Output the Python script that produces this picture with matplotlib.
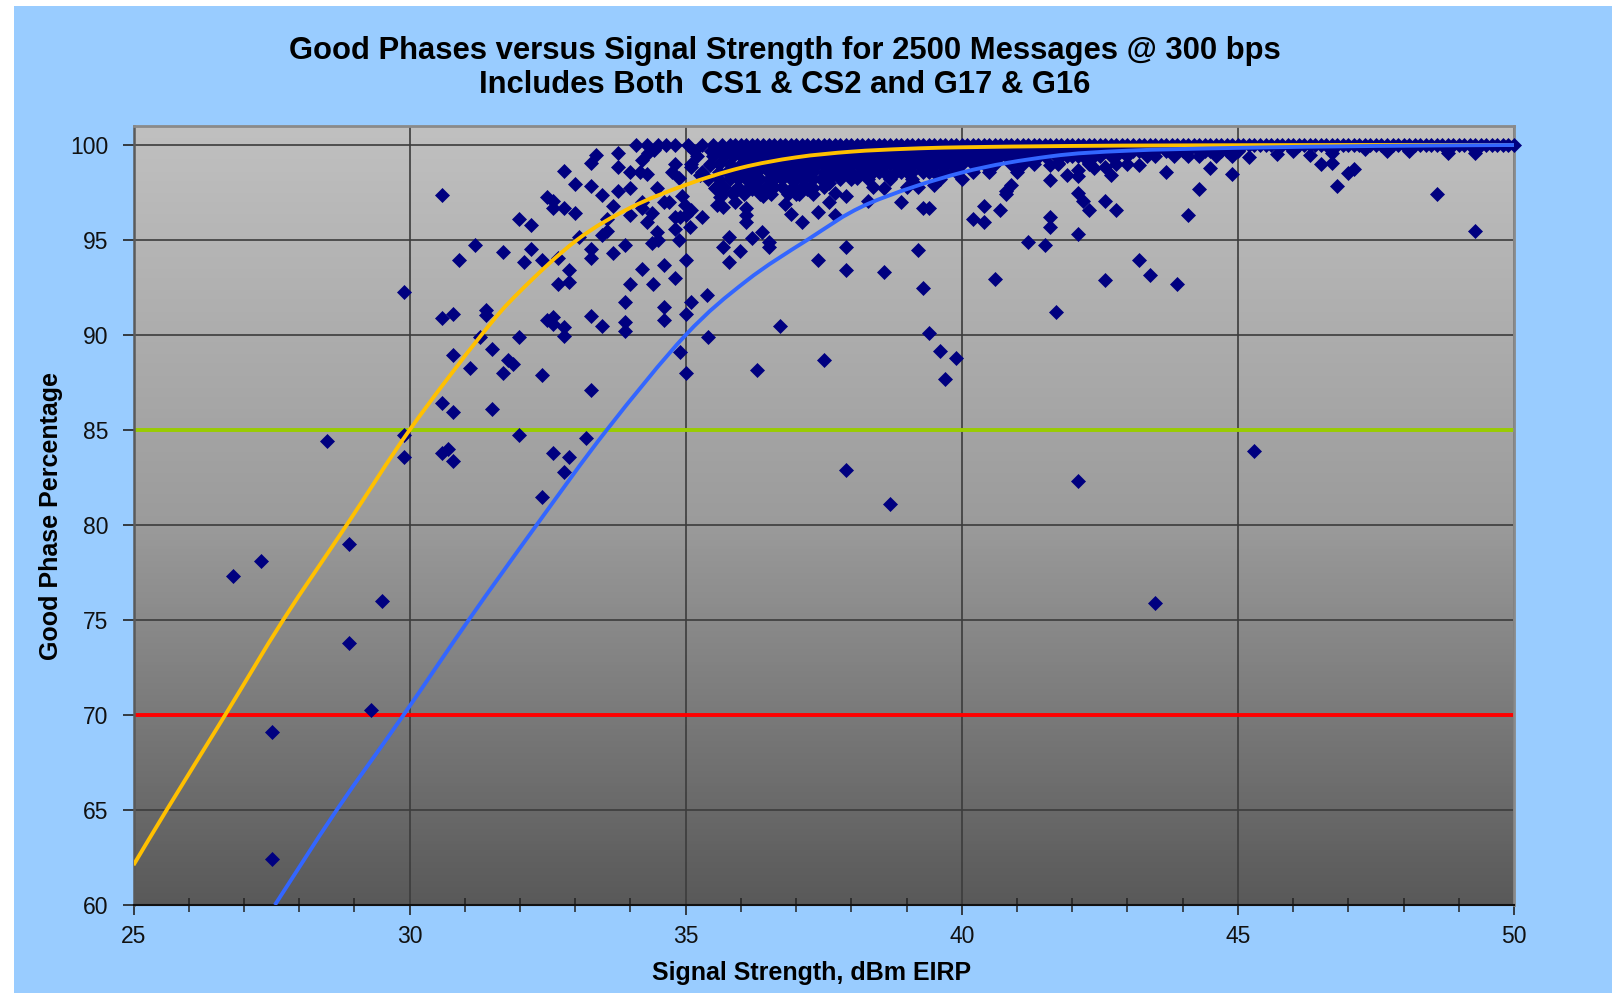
import numpy as np
import matplotlib
matplotlib.use("Agg")
import matplotlib.pyplot as plt
from matplotlib.patches import Rectangle, PathPatch
from matplotlib.path import Path
from matplotlib.colors import LinearSegmentedColormap

plt.rcParams['font.family'] = ['Liberation Sans', 'DejaVu Sans']

# ---------------- data ----------------
title1 = "Good Phases versus Signal Strength for 2500 Messages @ 300 bps"
title2 = "Includes Both  CS1 & CS2 and G17 & G16"
xlabel = "Signal Strength, dBm EIRP"
ylabel = "Good Phase Percentage"

# messages that came through with every phase good (100 %)
x_at_100 = [34.1, 34.3, 34.5, 34.65, 34.8, 35.05, 35.3, 35.5, 35.65, 35.8, 35.9,
            36.0, 36.1, 36.2, 36.3, 36.4, 36.5, 36.6, 36.7, 36.8, 36.9,
            37.0, 37.1, 37.2, 37.3, 37.4, 37.5, 37.6, 37.7, 37.8, 37.9,
            38.0, 38.1, 38.2, 38.3, 38.4, 38.5, 38.6, 38.7, 38.8, 38.9,
            39.0, 39.1, 39.2, 39.3, 39.4, 39.5, 39.6, 39.7, 39.8, 39.9,
            40.0, 40.1, 40.2, 40.3, 40.4, 40.5, 40.6, 40.7, 40.8, 40.9,
            41.0, 41.1, 41.2, 41.3, 41.4, 41.5, 41.6, 41.7, 41.8, 41.9,
            42.0, 42.1, 42.2, 42.3, 42.4, 42.5, 42.6, 42.7, 42.8, 42.9,
            43.0, 43.1, 43.2, 43.3, 43.4, 43.5, 43.6, 43.7, 43.8, 43.9,
            44.0, 44.1, 44.2, 44.3, 44.4, 44.5, 44.6, 44.7, 44.8, 44.9,
            45.0, 45.1, 45.2, 45.3, 45.4, 45.5, 45.6, 45.7, 45.8, 45.9,
            46.0, 46.1, 46.2, 46.3, 46.4, 46.5, 46.6, 46.7, 46.8, 46.9,
            47.0, 47.1, 47.2, 47.3, 47.4, 47.5, 47.6, 47.7, 47.8, 47.9,
            48.0, 48.1, 48.2, 48.3, 48.4, 48.5, 48.6, 48.7, 48.8, 48.9,
            49.0, 49.1, 49.2, 49.3, 49.4, 49.5, 49.6, 49.7, 49.8, 49.9, 50.0]

# the dense cloud just under 100 %
x_at_997 = [35.15, 35.45, 35.6, 35.75, 35.9,
            36.0, 36.1, 36.2, 36.3, 36.4, 36.5, 36.6, 36.7, 36.8, 36.9,
            37.0, 37.1, 37.2, 37.3, 37.4, 37.5, 37.6, 37.7, 37.8, 37.9,
            38.0, 38.1, 38.2, 38.3, 38.4, 38.5, 38.6, 38.7, 38.8, 38.9,
            39.0, 39.1, 39.2, 39.3, 39.4, 39.5, 39.6, 39.7, 39.8, 39.9,
            40.0, 40.1, 40.2, 40.3, 40.4, 40.5, 40.6, 40.7, 40.8, 40.9,
            41.0, 41.1, 41.2, 41.3, 41.4, 41.5, 41.6, 41.7, 41.8, 41.9,
            42.0, 42.1, 42.2, 42.3, 42.4, 42.5, 42.6, 42.7, 42.8, 42.9,
            43.0, 43.1, 43.2, 43.3, 43.4, 43.5, 43.7, 43.8, 43.9,
            44.0, 44.1, 44.3, 44.4, 44.5, 44.6, 44.7, 44.8, 44.9, 45.0]
x_at_994 = [35.2, 35.5, 35.7, 35.85,
            36.0, 36.1, 36.2, 36.3, 36.4, 36.5, 36.6, 36.7, 36.8, 36.9,
            37.0, 37.1, 37.2, 37.3, 37.4, 37.5, 37.6, 37.7, 37.8, 37.9,
            38.0, 38.1, 38.2, 38.3, 38.4, 38.5, 38.6, 38.7, 38.8, 38.9,
            39.0, 39.1, 39.2, 39.3, 39.4, 39.5, 39.6, 39.7, 39.8, 39.9,
            40.0, 40.1, 40.2, 40.3, 40.4, 40.5, 40.6, 40.7, 40.8, 40.9,
            41.0, 41.1, 41.2, 41.3, 41.4, 41.5, 41.7, 41.8, 41.9,
            42.0, 42.1, 42.2, 42.4, 42.5, 42.7, 42.8, 43.0,
            43.35, 43.5, 43.85, 44.1, 44.3, 44.6, 44.9]
x_at_990 = [35.1, 35.44, 35.6, 35.8,
            36.0, 36.1, 36.2, 36.3, 36.4, 36.5, 36.6, 36.7, 36.8, 36.9,
            37.0, 37.1, 37.2, 37.3, 37.4, 37.5, 37.6, 37.7, 37.8, 37.9,
            38.0, 38.1, 38.2, 38.3, 38.4, 38.5, 38.6, 38.7, 38.8, 38.9,
            39.0, 39.1, 39.2, 39.3, 39.4, 39.5, 39.6, 39.7, 39.8, 39.9,
            40.0, 40.2, 40.3, 40.4, 40.6, 40.9, 41.1, 41.3, 41.75, 42.3, 42.8, 43.0]
x_at_986 = [35.3, 35.6, 35.75, 35.9, 36.0, 36.1, 36.2, 36.3, 36.5, 36.6, 36.7,
            36.8, 36.9, 37.0, 37.1, 37.2, 37.3, 37.5, 37.6, 37.7, 37.8, 37.9,
            38.0, 38.2, 38.3, 38.4, 38.5, 38.6, 38.8, 38.9, 39.0, 39.1, 39.3,
            39.4, 39.5, 39.7, 39.9, 40.2, 40.5, 41.0]
x_at_982 = [35.4, 35.6, 35.8, 35.95, 36.1, 36.2, 36.35, 36.5, 36.6, 36.75,
            36.9, 37.0, 37.15, 37.3, 37.45, 37.6, 37.8, 38.0, 38.3, 38.7,
            39.1, 39.6, 40.0]
x_at_978 = [35.55, 35.7, 35.95, 36.15, 36.3, 36.45, 36.6, 36.75, 36.95, 37.1,
            37.25, 37.5, 38.4, 39.0]
x_at_974 = [35.65, 35.85, 36.05, 36.35, 36.55, 36.85, 37.05, 37.3]

# individual messages below the cloud (signal dBm, good phase %)
pts_low = [(26.8, 77.3), (27.3, 78.1), (27.5, 69.1), (27.5, 62.4), (28.5, 84.4),
           (28.9, 79.0), (28.9, 73.8), (29.3, 70.25), (29.5, 76.0), (29.9, 92.25),
           (29.9, 84.75), (29.9, 83.6)]
pts_30_32 = [(30.58, 97.37), (30.58, 90.88), (30.78, 91.1), (30.58, 86.4), (30.78, 85.96),
             (30.58, 83.8), (30.69, 84.0), (30.78, 83.37), (30.78, 88.95), (30.9, 93.95),
             (31.1, 88.25), (31.19, 94.75), (31.28, 89.91), (31.39, 91.32), (31.39, 91.05),
             (31.5, 89.26), (31.5, 86.09), (31.7, 94.38), (31.7, 88.02), (31.79, 88.68),
             (31.88, 88.47), (31.99, 96.09), (31.99, 89.88), (31.99, 84.74)]
pts_32_34 = [(32.08, 93.86), (32.2, 95.79), (32.2, 94.51), (32.39, 87.89), (32.39, 81.45),
             (32.4, 93.95), (32.49, 97.28), (32.49, 90.79), (32.59, 90.96), (32.59, 90.58),
             (32.59, 83.8), (32.6, 97.05), (32.6, 96.67), (32.68, 94.03), (32.68, 92.68),
             (32.79, 96.67), (32.79, 98.65), (32.79, 90.4), (32.79, 89.95), (32.79, 82.8),
             (32.88, 93.42), (32.88, 92.8), (32.89, 83.6), (33.0, 97.95), (33.0, 96.4),
             (33.06, 95.17), (33.19, 84.6), (33.28, 99.07), (33.38, 99.47), (33.28, 97.84),
             (33.28, 94.51), (33.28, 94.07), (33.28, 91.0), (33.28, 87.11), (33.49, 97.37),
             (33.49, 95.26), (33.49, 90.49), (33.58, 96.1), (33.58, 95.5), (33.69, 96.79),
             (33.69, 94.3), (33.77, 99.56), (33.77, 98.86), (33.77, 97.6), (33.9, 94.74),
             (33.9, 91.75), (33.9, 90.7), (33.9, 90.2)]
pts_34_35 = [(34.0, 98.6), (34.0, 97.72), (34.0, 96.3), (34.0, 92.7), (34.18, 98.6),
             (34.2, 99.2), (34.31, 99.56), (34.3, 98.45), (34.2, 97.0), (34.2, 96.7),
             (34.2, 93.5), (34.3, 95.96), (34.39, 96.4), (34.39, 94.83), (34.4, 92.7),
             (34.42, 99.74), (34.48, 97.72), (34.48, 95.44), (34.5, 95.0), (34.6, 97.0),
             (34.6, 93.7), (34.6, 91.45), (34.6, 90.8), (34.7, 97.0), (34.75, 98.6),
             (34.8, 99.0), (34.8, 96.2), (34.81, 95.6), (34.8, 93.0), (34.87, 98.25),
             (34.87, 95.0), (34.9, 96.2), (34.93, 97.3), (34.9, 89.1), (34.99, 96.85),
             (35.0, 96.3), (35.0, 93.95), (35.0, 91.1), (35.0, 88.0)]
pts_35_40 = [(35.08, 95.7), (35.1, 96.6), (35.1, 91.75), (35.1, 98.85), (35.26, 98.4),
             (35.29, 96.2), (35.38, 92.1), (35.4, 89.9), (35.44, 98.95), (35.53, 97.72),
             (35.56, 96.84), (35.62, 97.28), (35.68, 96.75), (35.68, 94.65), (35.78, 95.17),
             (35.78, 93.86), (35.85, 97.55), (35.9, 97.0), (35.99, 94.4), (36.1, 96.67),
             (36.1, 96.3), (36.1, 95.96), (36.2, 95.1), (36.2, 97.7), (36.3, 88.15),
             (36.38, 95.44), (36.4, 97.3), (36.5, 94.9), (36.5, 94.65), (36.7, 90.5),
             (36.8, 96.9), (36.9, 96.35), (37.0, 97.4), (37.1, 95.95), (37.2, 97.7),
             (37.3, 97.75), (37.4, 96.45), (37.4, 93.95), (37.5, 88.7), (37.6, 98.0),
             (37.6, 97.0), (37.7, 97.5), (37.7, 96.3), (37.8, 98.4), (37.9, 97.3),
             (37.9, 94.65), (37.9, 93.4), (37.9, 82.9), (38.1, 98.25), (38.3, 97.05),
             (38.6, 97.75), (38.6, 93.3), (38.7, 81.1), (38.9, 97.0), (39.2, 97.8),
             (39.2, 94.5), (39.3, 96.7), (39.4, 96.7), (39.3, 92.5), (39.4, 90.1),
             (39.5, 97.9), (39.6, 89.15), (39.7, 87.7), (39.9, 88.8)]
pts_40_45 = [(40.2, 96.1), (40.4, 96.8), (40.4, 95.95), (40.6, 92.95), (40.7, 96.6),
             (40.8, 97.4), (40.8, 97.6), (40.9, 97.9), (41.2, 94.9), (41.5, 94.75),
             (41.6, 98.15), (41.6, 96.2), (41.6, 95.7), (41.7, 91.2), (41.6, 98.95),
             (41.75, 99.05), (41.9, 98.4), (42.1, 98.7), (42.1, 98.35), (42.1, 97.45),
             (42.1, 95.3), (42.1, 82.3), (42.2, 97.05), (42.3, 99.05), (42.3, 96.6),
             (42.4, 98.8), (42.6, 98.85), (42.6, 97.05), (42.6, 92.9), (42.7, 98.4),
             (42.8, 96.6), (43.2, 98.95), (43.2, 93.95), (43.4, 93.15), (43.5, 75.9),
             (43.7, 98.6), (43.9, 92.7), (44.1, 96.3), (44.3, 97.7), (44.5, 98.8),
             (44.9, 98.45)]
pts_45_50 = [(45.2, 99.35), (45.3, 83.9), (45.7, 99.55), (46.0, 99.7), (46.3, 99.5),
             (46.5, 99.0), (46.7, 99.6), (46.7, 99.05), (46.8, 97.85), (47.0, 98.55),
             (47.1, 98.75), (47.3, 99.8), (47.7, 99.7), (48.1, 99.7), (48.6, 97.4),
             (48.8, 99.6), (49.3, 99.6), (49.3, 95.45)]

# fitted curves (traced)
orange_x = [25.0, 25.6, 26.66, 27.71, 28.86, 30.0, 31.3, 32.0, 33.03, 34.0, 35.0, 36.0,
            37.0, 38.0, 39.0, 40.0, 42.0, 44.0, 47.0, 50.0]
orange_y = [62.1, 65.0, 70.0, 75.0, 80.0, 85.0, 90.0, 92.3, 95.0, 96.7, 97.9, 98.8,
            99.35, 99.65, 99.8, 99.88, 99.95, 99.98, 100.0, 100.0]
blue_x = [27.56, 28.68, 29.89, 31.07, 32.3, 33.57, 35.0, 36.1, 37.2, 38.3, 40.0,
          41.6, 43.0, 45.0, 47.5, 50.0]
blue_y = [60.0, 65.0, 70.0, 75.0, 80.0, 85.0, 90.0, 92.85, 95.0, 96.9, 98.55,
          99.4, 99.7, 99.85, 99.95, 100.0]

limit_good = 85
limit_min = 70


def smooth_path(xs, ys):
    # Excel-style smoothed line: Catmull-Rom segments drawn as cubic Beziers
    p = np.column_stack([xs, ys]).astype(float)
    verts = [p[0]]
    codes = [Path.MOVETO]
    for i in range(len(p) - 1):
        p0 = p[i - 1] if i > 0 else p[i]
        p3 = p[i + 2] if i + 2 < len(p) else p[i + 1]
        c1 = p[i] + (p[i + 1] - p0) / 6.0
        c2 = p[i + 1] - (p3 - p[i]) / 6.0
        verts += [c1, c2, p[i + 1]]
        codes += [Path.CURVE4] * 3
    return Path(verts, codes)


# ---------------- figure ----------------
W, H = 1612, 993
fig = plt.figure(figsize=(W / 100, H / 100), dpi=100)
fig.patches.append(Rectangle((14 / W, 0), 1, 1 - 6 / H, transform=fig.transFigure,
                             facecolor='#99CCFF', edgecolor='none', zorder=-10))

ax = fig.add_axes([133.5 / W, 1 - 905 / H, (1514 - 133.5) / W, (905 - 126) / H])
ax.set_xlim(25, 50)
ax.set_ylim(60, 101)

# grey gradient plot area
grad = LinearSegmentedColormap.from_list('g', [(0, '#595959'), (0.5, '#9C9C9C'), (1, '#C0C0C0')])
ax.imshow(np.linspace(0, 1, 256).reshape(-1, 1), cmap=grad, origin='lower',
          extent=[25, 50, 60, 101], aspect='auto', zorder=0)

ax.set_xticks([25, 30, 35, 40, 45, 50])
ax.set_xticks(np.arange(25, 51, 1), minor=True)
ax.set_yticks([60, 65, 70, 75, 80, 85, 90, 95, 100])
ax.grid(True, which='major', color='#3c3c3c', lw=1.2, zorder=1)
ax.tick_params(axis='x', which='major', direction='out', length=7, width=1.2,
               pad=7.5, labelsize=16.5, colors='#222222', labelcolor='#111111')
ax.tick_params(axis='x', which='minor', direction='inout', length=10, width=1.1, colors='#222222')
ax.tick_params(axis='y', which='major', direction='out', length=8, width=1.2,
               pad=10, labelsize=16.5, colors='#222222', labelcolor='#111111')

for s in ['top', 'right']:
    ax.spines[s].set_color('#8a8a8a')
    ax.spines[s].set_linewidth(2)
ax.spines['left'].set_color('#5a5a5a')
ax.spines['left'].set_linewidth(1.8)
ax.spines['bottom'].set_color('#111111')
ax.spines['bottom'].set_linewidth(1.5)

ax.axhline(limit_good, color='#99CC00', lw=2.8, zorder=2)
ax.axhline(limit_min, color='#FF0000', lw=2.8, zorder=2)

# scatter
sx, sy = [], []
for xs, yv in [(x_at_100, 100.0), (x_at_997, 99.7), (x_at_994, 99.4), (x_at_990, 99.0),
               (x_at_986, 98.6), (x_at_982, 98.2), (x_at_978, 97.8), (x_at_974, 97.4)]:
    sx += xs
    sy += [yv] * len(xs)
for grp in [pts_low, pts_30_32, pts_32_34, pts_34_35, pts_35_40, pts_40_45, pts_45_50]:
    sx += [p[0] for p in grp]
    sy += [p[1] for p in grp]
ax.plot(sx, sy, ls='none', marker='D', ms=7.6, color='#000080', mec='#000080', mew=0.5,
        zorder=3, clip_on=False)

for cx, cy, col in [(orange_x, orange_y, '#FFC000'), (blue_x, blue_y, '#3366FF')]:
    ax.add_patch(PathPatch(smooth_path(cx, cy), facecolor='none', edgecolor=col,
                           lw=2.8, zorder=4, capstyle='butt'))

fig.text(785 / W, 1 - 59 / H, title1, ha='center', va='baseline', fontsize=22.3, fontweight='bold')
fig.text(785 / W, 1 - 93 / H, title2, ha='center', va='baseline', fontsize=22.3, fontweight='bold')
fig.text(812 / W, 1 - 980 / H, xlabel, ha='center', va='baseline', fontsize=18, fontweight='bold')
fig.text(51 / W, 1 - 516 / H, ylabel, ha='center', va='center', rotation=90,
         fontsize=18, fontweight='bold')

fig.savefig('out.png', dpi=100)
